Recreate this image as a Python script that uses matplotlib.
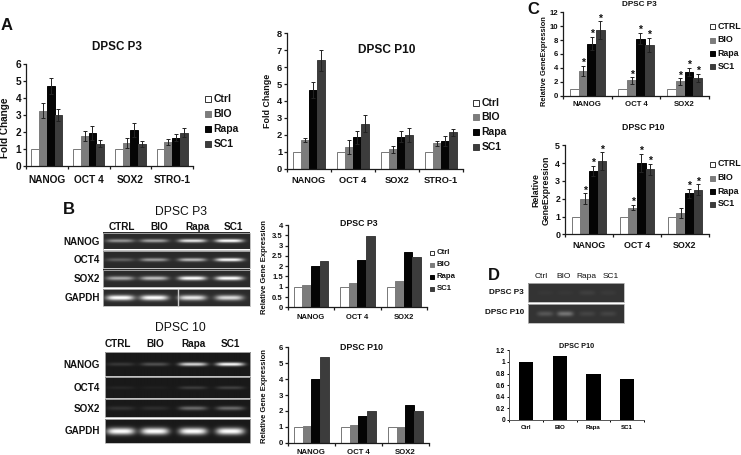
#!/usr/bin/env python3
"""Recreate the DPSC multi-panel figure: bar charts plus gel images."""
import numpy as np
import matplotlib
matplotlib.use('Agg')
import matplotlib.pyplot as plt
from matplotlib.patches import Rectangle

plt.rcParams['font.family'] = ['Liberation Sans', 'DejaVu Sans']

W, H = 741, 455

genes4 = ['NANOG', 'OCT 4', 'SOX2', 'STRO-1']
genes3 = ['NANOG', 'OCT 4', 'SOX2']
treat_title = ['Ctrl', 'BIO', 'Rapa', 'SC1']
treat_upper = ['CTRL', 'BIO', 'Rapa', 'SC1']

# values by series (ctrl, BIO, Rapa, SC1), one entry per gene
a_p3_vals = [[1, 1, 1, 1], [3.25, 1.75, 1.35, 1.4], [4.7, 1.95, 2.1, 1.65], [3.0, 1.3, 1.3, 1.95]]
a_p3_errs = [[0, 0, 0, 0], [0.42, 0.3, 0.27, 0.17], [0.48, 0.4, 0.4, 0.2], [0.35, 0.2, 0.17, 0.27]]
a_p10_vals = [[1, 1, 1, 1], [1.7, 1.3, 1.15, 1.5], [4.65, 1.85, 1.9, 1.65], [6.4, 2.65, 2.0, 2.15]]
a_p10_errs = [[0, 0, 0, 0], [0.1, 0.42, 0.22, 0.15], [0.5, 0.4, 0.3, 0.3], [0.6, 0.5, 0.4, 0.22]]
c_p3_vals = [[1, 1, 1], [3.55, 2.2, 2.05], [7.5, 8.2, 3.4], [9.4, 7.3, 2.55]]
c_p3_errs = [[0, 0, 0], [0.7, 0.45, 0.45], [0.95, 0.8, 0.55], [1.3, 1.0, 0.6]]
c_p3_stars = [[0, 0, 0], [1, 1, 1], [1, 1, 1], [1, 1, 1]]
c_p10_vals = [[1, 1, 1], [2.0, 1.5, 1.2], [3.55, 4.0, 2.3], [4.1, 3.65, 2.5]]
c_p10_errs = [[0, 0, 0], [0.3, 0.15, 0.27], [0.3, 0.5, 0.25], [0.5, 0.3, 0.3]]
c_p10_stars = [[0, 0, 0], [1, 1, 0], [1, 1, 1], [1, 1, 1]]
b_p3_vals = [[1, 1, 1], [1.1, 1.2, 1.3], [2.0, 2.3, 2.68], [2.25, 3.45, 2.45]]
b_p10_vals = [[1, 1, 1], [1.05, 1.1, 1.0], [4.0, 1.7, 2.35], [5.4, 2.0, 2.0]]
d_vals = [1.0, 1.1, 0.8, 0.7]

# band brightness read from the gels, one entry per lane
gel_p3_nanog = [0.42, 0.48, 0.75, 0.85]
gel_p3_oct4 = [0.22, 0.45, 0.58, 0.85]
gel_p3_sox2 = [0.5, 0.58, 0.85, 0.85]
gel_p3_gapdh = [0.85, 0.85, 0.75, 0.7]
gel_p10_nanog = [0.12, 0.22, 0.75, 0.9]
gel_p10_oct4 = [0.05, 0.03, 0.14, 0.16]
gel_p10_sox2 = [0.1, 0.08, 0.32, 0.32]
gel_p10_gapdh = [0.9, 0.9, 0.9, 0.9]
gel_d_p3 = [0.02, 0.02, 0.05, 0.03]
gel_d_p10 = [0.14, 0.26, 0.07, 0.07]

fill_colors = ['white', '#7c7c7c', '#050505', '#3c3c3c']
edge_colors = ['#777777', '#7c7c7c', '#050505', '#3c3c3c']
DARK = '#1c1c1c'

fig = plt.figure(figsize=(W / 100, H / 100), dpi=100)
overlay = fig.add_axes([0, 0, 1, 1], zorder=5)
overlay.patch.set_alpha(0)
overlay.axis('off')


def text(x, y, s, size, weight='bold', ha='center', va='center', rotation=0, color='#111111', **kw):
    overlay.text(x, y, s, fontsize=size, fontweight=weight, ha=ha, va=va,
                 rotation=rotation, color=color, **kw)


def bar_panel(box, vals, ymax, yticks, genes, size, width=0.185, errs=None, stars=None, pad=3.5, yfmt=None):
    """box is left, right, top, bottom in pixels."""
    left, right, top, bottom = box
    ax = fig.add_axes([left / W, 1 - bottom / H, (right - left) / W, (bottom - top) / H])
    n_groups = len(genes)
    for s, series in enumerate(vals):
        xs = np.arange(n_groups) + 0.5 + (s - 1.5) * width
        ax.bar(xs, series, width=width, color=fill_colors[s], edgecolor=edge_colors[s], linewidth=0.7)
        if errs is not None and s > 0:
            ax.errorbar(xs, series, yerr=errs[s], fmt='none', ecolor='#222222',
                        elinewidth=0.7, capsize=1.3, capthick=0.7)
        if stars is not None:
            for g in range(n_groups):
                if stars[s][g]:
                    ax.annotate('*', (xs[g], series[g] + errs[s][g]), xytext=(0, -1.5),
                                textcoords='offset points', ha='center', va='bottom',
                                fontsize=7.5, fontweight='bold', color='#111111',
                                annotation_clip=False)
    ax.set_xlim(0, n_groups)
    ax.set_ylim(0, ymax)
    ax.set_yticks(yticks)
    if yfmt:
        ax.set_yticklabels([yfmt(t) for t in yticks])
    ax.set_xticks(np.arange(n_groups + 1))
    ax.set_xticklabels([])
    ax.set_xticks(np.arange(n_groups) + 0.5, genes, minor=True)
    ax.tick_params(axis='x', which='minor', length=0, labelsize=size, pad=pad, labelcolor='#111111')
    ax.tick_params(axis='x', which='major', length=2, width=0.9, color=DARK)
    ax.tick_params(axis='y', length=2, width=0.9, color=DARK, labelsize=size, pad=1.5, labelcolor='#111111')
    for lab in ax.get_xticklabels(minor=True) + ax.get_yticklabels():
        lab.set_fontweight('bold')
    for side in ('top', 'right'):
        ax.spines[side].set_visible(False)
    for side in ('left', 'bottom'):
        ax.spines[side].set_linewidth(0.9)
        ax.spines[side].set_color(DARK)
    return ax


def legend(x, rows_y, labels, size, box=5):
    for i, (y, lab) in enumerate(zip(rows_y, labels)):
        overlay.add_patch(Rectangle((x, y - box / 2), box, box, facecolor=fill_colors[i],
                                    edgecolor=edge_colors[i] if i else '#333333', linewidth=0.7))
        text(x + box + 2.5, y, lab, size, ha='left')


def gel(x0, x1, y0, y1, lanes, bright, half_w=14, half_h=2.0, bg=0.16):
    """Dark gel strip with one soft band per lane; centred vertically in the strip."""
    xx, yy = np.meshgrid(np.arange(x0, x1, 0.5), np.arange(y0, y1, 0.5))
    img = np.full(xx.shape, bg)
    cy = (y0 + y1) / 2
    for cx, b in zip(lanes, bright):
        img = img + b * np.exp(-((xx - cx) / half_w) ** 4) * np.exp(-((yy - cy) / half_h) ** 2)
    overlay.imshow(img, extent=(x0, x1, y1, y0), cmap='gray', vmin=0, vmax=1,
                   aspect='auto', interpolation='bilinear', zorder=1)
    overlay.add_patch(Rectangle((x0, y0), x1 - x0, y1 - y0, fill=False, edgecolor='#b5b5b5',
                                linewidth=0.6, zorder=2))


# Panel A
bar_panel((26, 193, 63.7, 166), a_p3_vals, 6, range(7), genes4, 7.3, errs=a_p3_errs, pad=6.5)
bar_panel((287, 463, 33.3, 168.7), a_p10_vals, 8, range(9), genes4, 6.7, errs=a_p10_errs, pad=5)
text(1, 25, 'A', 12, ha='left')
text(117, 47, 'DPSC P3', 8.4)
text(387, 50, 'DPSC P10', 8.6)
text(5, 127.5, 'Fold Change', 7.2, rotation=90)
text(267, 101, 'Fold Change', 6.4, rotation=90)
legend(205, [99, 114.3, 129.3, 144.3], treat_title, 7.5, box=6)
legend(473, [102.7, 116.7, 132.3, 147.3], treat_title, 7.5, box=6)

# Panel C
bar_panel((563, 709, 12.3, 95.7), c_p3_vals, 12, range(0, 13, 2), genes3, 5.6, width=0.18,
          errs=c_p3_errs, stars=c_p3_stars, pad=4)
bar_panel((565, 709, 145.3, 234.3), c_p10_vals, 5, range(6), genes3, 6.4, width=0.18,
          errs=c_p10_errs, stars=c_p10_stars, pad=4.5)
text(527, 9, 'C', 12, ha='left')
text(639, 4, 'DPSC P3', 5.9)
text(643, 127, 'DPSC P10', 6.3)
text(545, 61, 'Relative GeneExpression', 5.4, rotation=90)
text(541, 190, 'Relative\nGeneExpression', 6.3, rotation=90, linespacing=1.1)
legend(710, [26.7, 40, 53, 66.7], treat_upper, 6.4, box=5)
legend(710, [164, 178, 191, 204], treat_upper, 6.4, box=5)

# Panel B gels
lanes_b = [120, 154, 192, 229]
for (y0, y1, bright, hh) in [(233, 249.5, gel_p3_nanog, 1.7), (251, 268, gel_p3_oct4, 1.7),
                             (269.5, 287, gel_p3_sox2, 2.0), (289, 306, gel_p3_gapdh, 2.6)]:
    gel(103, 250, y0, y1, lanes_b, bright, half_h=hh, bg=0.17)
overlay.plot([178, 178], [289, 306], color='#c8c8c8', linewidth=1.0, zorder=3)
for (y0, y1, bright, hh) in [(352, 376, gel_p10_nanog, 1.8), (377, 398, gel_p10_oct4, 1.6),
                             (399, 417, gel_p10_sox2, 2.0), (419, 443, gel_p10_gapdh, 3.5)]:
    gel(104.5, 250, y0, y1, lanes_b, bright, half_h=hh, bg=0.1)
text(63, 209, 'B', 12, ha='left')
text(181, 212, 'DPSC P3', 8.7, weight='normal')
text(180, 328, 'DPSC 10', 8.7, weight='normal')
for x, lab in zip([122, 159, 197, 233], treat_upper):
    text(x, 227, lab, 7.2)
for x, lab in zip([118, 155, 194, 230], treat_upper):
    text(x, 344, lab, 7.2)
gel_rows = ['NANOG', 'OCT4', 'SOX2', 'GAPDH']
for y, lab in zip([242, 260, 279, 298], gel_rows):
    text(100, y, lab, 7.1, ha='right')
for y, lab in zip([365, 388, 409, 431], gel_rows):
    text(100, y, lab, 7.1, ha='right')

# Panel B charts
bar_panel((287.7, 427, 225, 307.3), b_p3_vals, 4, [0, 0.5, 1, 1.5, 2, 2.5, 3, 3.5, 4], genes3, 5.5,
          pad=5, yfmt=lambda t: f'{t:g}')
bar_panel((287.7, 429, 347.3, 442.7), b_p10_vals, 6, range(7), genes3, 5.6, pad=4.5)
text(359, 223, 'DPSC P3', 6.3)
text(362, 347, 'DPSC P10', 6.4)
text(264, 266.7, 'Relative Gene Expression', 5.5, rotation=90)
text(265, 395.6, 'Relative Gene Expression', 5.5, rotation=90)
legend(430, [253, 265, 277, 289], treat_title, 5.6, box=4)

# Panel D
lanes_d = [545, 565, 587, 608]
gel(528, 624, 283, 302, lanes_d, gel_d_p3, half_w=8, half_h=2.5, bg=0.2)
gel(528, 624, 304, 323, lanes_d, gel_d_p10, half_w=8, half_h=2.5, bg=0.2)
text(488, 276, 'D', 12, ha='left')
for x, lab in zip([541, 564, 586, 611], treat_title):
    text(x, 277, lab, 6, weight='normal')
text(524, 293, 'DPSC P3', 5.9, ha='right')
text(524, 313, 'DPSC P10', 5.9, ha='right')

ax_d = fig.add_axes([509.3 / W, 1 - 420 / H, (644 - 509.3) / W, (420 - 350.3) / H])
ax_d.bar(np.arange(4) + 0.5, d_vals, width=0.42, color='black')
ax_d.set_xlim(0, 4)
ax_d.set_ylim(0, 1.2)
ax_d.set_yticks([0, 0.2, 0.4, 0.6, 0.8, 1, 1.2], ['0', '0.2', '0.4', '0.6', '0.8', '1', '1.2'])
ax_d.set_xticks(range(5))
ax_d.set_xticklabels([])
ax_d.set_xticks(np.arange(4) + 0.5, treat_title, minor=True)
ax_d.tick_params(axis='x', which='minor', length=0, labelsize=4.4, pad=3.5)
ax_d.tick_params(axis='x', which='major', length=1.5, width=0.7)
ax_d.tick_params(axis='y', length=1.5, width=0.7, labelsize=4.8, pad=1.5)
for lab in ax_d.get_xticklabels(minor=True) + ax_d.get_yticklabels():
    lab.set_fontweight('bold')
for side in ('top', 'right'):
    ax_d.spines[side].set_visible(False)
for side in ('left', 'bottom'):
    ax_d.spines[side].set_linewidth(0.7)
    ax_d.spines[side].set_color('#555555')
text(577, 346, 'DPSC P10', 5.2)

overlay.set_xlim(0, W)
overlay.set_ylim(H, 0)

fig.savefig('out.png', dpi=100)
